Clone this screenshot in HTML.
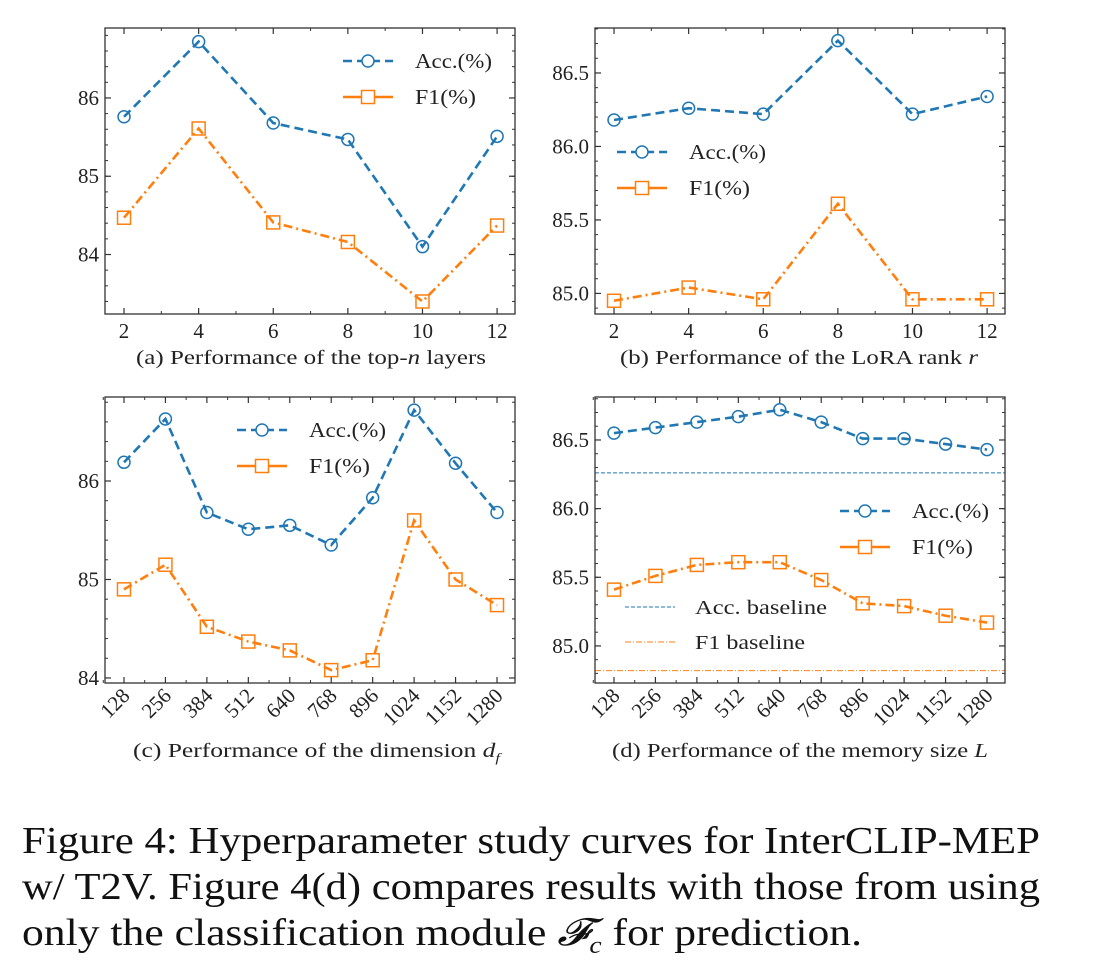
<!DOCTYPE html>
<html><head><meta charset="utf-8">
<style>
body{margin:0;background:#fff;width:1099px;height:979px;overflow:hidden;font-family:"Liberation Serif",serif;}
svg text{font-family:"Liberation Serif",serif;fill:#222;}
</style></head><body>
<svg id="fig" width="1099" height="790" style="position:absolute;left:0;top:0"></svg>
<svg width="1099" height="189" style="position:absolute;left:0;top:790px">
<text x="22" y="63" font-size="38" textLength="1018" lengthAdjust="spacingAndGlyphs" style="fill:#111">Figure 4: Hyperparameter study curves for InterCLIP-MEP</text>
<text x="22" y="109" font-size="38" textLength="1018" lengthAdjust="spacingAndGlyphs" style="fill:#111">w/ T2V. Figure 4(d) compares results with those from using</text>
<text x="22" y="155" font-size="38" textLength="840" lengthAdjust="spacingAndGlyphs" style="fill:#111">only the classification module <tspan font-style="italic">𝓕</tspan><tspan font-style="italic" font-size="24" dy="8">c</tspan><tspan dy="-8"> for prediction.</tspan></text>
</svg>
<script>
const xA=[2,4,6,8,10,12];
const accA=[85.76,86.72,85.68,85.47,84.10,85.51];
const f1A=[84.47,85.61,84.41,84.16,83.40,84.37];
const accB=[86.18,86.26,86.22,86.72,86.22,86.34];
const f1B=[84.95,85.04,84.96,85.61,84.96,84.96];
const xC=["128","256","384","512","640","768","896","1024","1152","1280"];
const accC=[86.19,86.63,85.68,85.51,85.55,85.35,85.83,86.72,86.18,85.68];
const f1C=[84.90,85.15,84.52,84.37,84.28,84.08,84.18,85.60,85.00,84.74];
const accD=[86.55,86.59,86.63,86.67,86.72,86.63,86.51,86.51,86.47,86.43];
const f1D=[85.41,85.51,85.59,85.61,85.61,85.48,85.31,85.29,85.22,85.17];
const accBaseD=86.26, f1BaseD=84.82;
const yTicksA=[84,85,86], yTicksB=[85.0,85.5,86.0,86.5], yTicksC=[84,85,86], yTicksD=[85.0,85.5,86.0,86.5];

const NS="http://www.w3.org/2000/svg";
const svg=document.getElementById('fig');
const BLUE="#1f77b4", ORANGE="#ff7f0e";
function mk(tag,attrs,parent){const e=document.createElementNS(NS,tag);for(const k in attrs)e.setAttribute(k,attrs[k]);(parent||svg).appendChild(e);return e;}

function panel(o){
  const g=mk('g',{});
  
  
  const sx=v=>o.L+(v-o.x0)/(o.x1-o.x0)*(o.R-o.L);
  const sy=v=>o.B-(v-o.y0)/(o.y1-o.y0)*(o.B-o.T);
  for(let v=Math.ceil(o.y0/o.ym-1e-9)*o.ym; v<=o.y1; v+=o.ym){
    const y=sy(v);
    mk('line',{x1:o.L,x2:o.L+3,y1:y,y2:y,stroke:'#333','stroke-width':1},g);
    mk('line',{x1:o.R,x2:o.R-3,y1:y,y2:y,stroke:'#333','stroke-width':1},g);
  }
  o.xminor.forEach(v=>{const x=sx(v);
    mk('line',{x1:x,x2:x,y1:o.B,y2:o.B-3,stroke:'#333','stroke-width':1},g);
    mk('line',{x1:x,x2:x,y1:o.T,y2:o.T+3,stroke:'#333','stroke-width':1},g);});
  o.yt.forEach(v=>{const y=sy(v);
    mk('line',{x1:o.L,x2:o.L+6,y1:y,y2:y,stroke:'#333','stroke-width':1.2},g);
    mk('line',{x1:o.R,x2:o.R-6,y1:y,y2:y,stroke:'#333','stroke-width':1.2},g);
    const t=mk('text',{x:o.L-6,y:y+7,'text-anchor':'end','font-size':21},g);
    t.textContent=o.yfmt(v);
    
    
  });
  o.xs.forEach((v,i)=>{const x=sx(v);
    mk('line',{x1:x,x2:x,y1:o.B,y2:o.B-6,stroke:'#333','stroke-width':1.2},g);
    mk('line',{x1:x,x2:x,y1:o.T,y2:o.T+6,stroke:'#333','stroke-width':1.2},g);
    let t;
    if(o.rot){t=mk('text',{x:x+7,y:o.B+14,'text-anchor':'end','font-size':21,transform:`rotate(-45 ${x+7} ${o.B+14})`},g);}
    else{t=mk('text',{x:x,y:o.B+24,'text-anchor':'middle','font-size':21},g);}
    t.textContent=o.xl[i];
    
    
  });
  if(o.baseAcc!==undefined){
    const l1=mk('line',{x1:o.L,x2:o.R,y1:sy(o.baseAcc),y2:sy(o.baseAcc),stroke:BLUE,'stroke-width':1,'stroke-dasharray':'4 2'},g);
    
    const l2=mk('line',{x1:o.L,x2:o.R,y1:sy(o.baseF1),y2:sy(o.baseF1),stroke:ORANGE,'stroke-width':1,'stroke-dasharray':'6 2 1 2'},g);
    
  }
  function series(vals,color,dash,marker,nm){
    const pts=vals.map((v,i)=>sx(o.xs[i])+','+sy(v)).join(' ');
    const p=mk('polyline',{points:pts,fill:'none',stroke:color,'stroke-width':2.6,'stroke-dasharray':dash},g);
    
    vals.forEach((v,i)=>{const x=sx(o.xs[i]),y=sy(v);let m;
      if(marker==='o')m=mk('circle',{cx:x,cy:y,r:6,fill:'none',stroke:color,'stroke-width':1.5},g);
      else m=mk('rect',{x:x-6.5,y:y-6.5,width:13,height:13,fill:'none',stroke:color,'stroke-width':1.5},g);
      
    });
  }
  series(o.acc,BLUE,'9 5','o','acc');
  series(o.f1,ORANGE,'9 4 2 4','s','f1');
  mk('rect',{x:o.L,y:o.T,width:o.R-o.L,height:o.B-o.T,fill:'none',stroke:'#333','stroke-width':1.3},g);
  const lg=mk('g',{},g);
  
  const [lx,ly]=o.leg;
  mk('line',{x1:lx,x2:lx+50,y1:ly,y2:ly,stroke:BLUE,'stroke-width':2.6,'stroke-dasharray':'9 5'},lg);
  mk('circle',{cx:lx+25,cy:ly,r:6,fill:'#fff',stroke:BLUE,'stroke-width':1.5},lg);
  let t=mk('text',{x:lx+72,y:ly+7,'font-size':21,textLength:77,lengthAdjust:'spacingAndGlyphs'},lg);t.textContent='Acc.(%)';
  
  mk('line',{x1:lx,x2:lx+50,y1:ly+36,y2:ly+36,stroke:ORANGE,'stroke-width':2.6},lg);
  mk('rect',{x:lx+18.5,y:ly+29.5,width:13,height:13,fill:'#fff',stroke:ORANGE,'stroke-width':1.5},lg);
  t=mk('text',{x:lx+72,y:ly+43,'font-size':21,textLength:61,lengthAdjust:'spacingAndGlyphs'},lg);t.textContent='F1(%)';
  
  if(o.leg2){const [bx,by]=o.leg2;
    mk('line',{x1:bx,x2:bx+50,y1:by,y2:by,stroke:BLUE,'stroke-width':1,'stroke-dasharray':'4 2'},lg);
    t=mk('text',{x:bx+70,y:by+7,'font-size':20,textLength:132,lengthAdjust:'spacingAndGlyphs'},lg);t.textContent='Acc. baseline';
    
    mk('line',{x1:bx,x2:bx+50,y1:by+35,y2:by+35,stroke:ORANGE,'stroke-width':1,'stroke-dasharray':'6 2 1 2'},lg);
    t=mk('text',{x:bx+70,y:by+42,'font-size':20,textLength:110,lengthAdjust:'spacingAndGlyphs'},lg);t.textContent='F1 baseline';
    
  }
  const c=mk('text',{x:o.capX,y:o.capY,'font-size':20,textLength:o.capW,lengthAdjust:'spacingAndGlyphs'},g);
  c.innerHTML=o.cap;
  
}
const idx=xC.map((_,i)=>i);
const minorIdx=[];for(let i=-0.5;i<9.5;i+=0.5)if(i%1!==0)minorIdx.push(i);
const oddX=[3,5,7,9,11];
panel({name:'panel-a-top-n-layers',L:105,R:515,T:28,B:314,x0:1.49,x1:12.48,y0:83.24,y1:86.894,ym:0.2,yt:yTicksA,yfmt:v=>v.toFixed(0),
  xs:xA,xl:xA.map(String),xminor:oddX,acc:accA,f1:f1A,leg:[343,61],capY:364,capX:136,capW:350,
  cap:'(a) Performance of the top-<tspan font-style="italic">n</tspan> layers'});
panel({name:'panel-b-lora-rank',L:595,R:1005,T:28,B:314,x0:1.49,x1:12.48,y0:84.86,y1:86.806,ym:0.1,yt:yTicksB,yfmt:v=>v.toFixed(1),
  xs:xA,xl:xA.map(String),xminor:oddX,acc:accB,f1:f1B,leg:[617,152],capY:364,capX:620,capW:358,
  cap:'(b) Performance of the LoRA rank <tspan font-style="italic">r</tspan>'});
panel({name:'panel-c-dimension',L:105,R:515,T:397,B:683,x0:-0.458,x1:9.434,y0:83.949,y1:86.853,ym:0.2,yt:yTicksC,yfmt:v=>v.toFixed(0),
  xs:idx,xl:xC,xminor:minorIdx,rot:true,acc:accC,f1:f1C,leg:[237,430],capY:757,capX:133,capW:367,
  cap:'(c) Performance of the dimension <tspan font-style="italic">d</tspan><tspan font-style="italic" font-size="13" dy="5">f</tspan>'});
panel({name:'panel-d-memory-size',L:595,R:1005,T:397,B:683,x0:-0.458,x1:9.434,y0:84.73,y1:86.813,ym:0.1,yt:yTicksD,yfmt:v=>v.toFixed(1),
  xs:idx,xl:xC,xminor:minorIdx,rot:true,acc:accD,f1:f1D,leg:[840,511],leg2:[625,607],capY:757,capX:612,capW:376,
  baseAcc:accBaseD,baseF1:f1BaseD,
  cap:'(d) Performance of the memory size <tspan font-style="italic">L</tspan>'});
</script>
</body></html>
